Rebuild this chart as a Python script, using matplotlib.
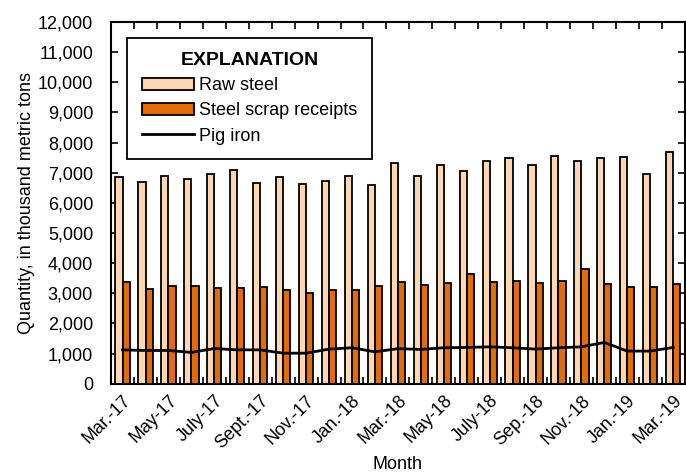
import numpy as np
import matplotlib.pyplot as plt
from matplotlib.patches import Patch
from matplotlib.lines import Line2D
from matplotlib.ticker import FuncFormatter, MultipleLocator

plt.rcParams['font.family'] = ['Liberation Sans', 'DejaVu Sans']

months = ['Mar.-17', 'Apr.-17', 'May-17', 'June-17', 'July-17', 'Aug.-17', 'Sept.-17',
          'Oct.-17', 'Nov.-17', 'Dec.-17', 'Jan.-18', 'Feb.-18', 'Mar.-18', 'Apr.-18',
          'May-18', 'June-18', 'July-18', 'Aug.-18', 'Sep.-18', 'Oct.-18', 'Nov.-18',
          'Dec.-18', 'Jan.-19', 'Feb.-19', 'Mar.-19']

raw_steel = [6870, 6695, 6880, 6785, 6960, 7085, 6650, 6840, 6640, 6715, 6880, 6575, 7325,
             6905, 7270, 7060, 7380, 7470, 7260, 7555, 7400, 7470, 7515, 6960, 7690]
scrap = [3360, 3150, 3250, 3250, 3180, 3160, 3225, 3115, 3015, 3115, 3125, 3250, 3390,
         3280, 3335, 3635, 3370, 3405, 3335, 3405, 3820, 3325, 3225, 3225, 3315]
pig_iron = [1125, 1105, 1105, 1040, 1170, 1125, 1125, 1015, 1015, 1150, 1195, 1060, 1165,
            1140, 1195, 1205, 1225, 1195, 1150, 1195, 1225, 1370, 1085, 1085, 1205]

raw_color = '#FDD7B4'
scrap_color = '#E36C0A'
fs = 13

fig = plt.figure(figsize=(6.86, 4.75), dpi=100)
ax = fig.add_axes([0.162, 0.192, 0.836, 0.762])

x = np.arange(len(months))
w = 0.31
ax.bar(x - w / 2, raw_steel, w, color=raw_color, edgecolor='black', linewidth=1.3, zorder=2)
ax.bar(x + w / 2, scrap, w, color=scrap_color, edgecolor='black', linewidth=1.3, zorder=2)
ax.plot(x, pig_iron, color='black', linewidth=2, zorder=3)

ax.set_xlim(-0.5, len(months) - 0.5)
ax.set_ylim(0, 12000)
ax.yaxis.set_major_locator(MultipleLocator(1000))
ax.yaxis.set_major_formatter(FuncFormatter(lambda v, p: f'{int(v):,}'))

ax.set_xticks(x[::2])
ax.set_xticklabels(months[::2], rotation=45, ha='right', rotation_mode='anchor', fontsize=fs)
ax.set_xticks(np.arange(-0.5, len(months) + 0.5, 1), minor=True)
ax.tick_params(axis='x', which='major', length=0, pad=6)
ax.tick_params(axis='x', which='minor', direction='in', length=5, width=1.2, top=True, bottom=True)
ax.tick_params(axis='y', direction='in', length=5, width=1.2, left=True, right=True,
               labelsize=fs, pad=13)

for s in ax.spines.values():
    s.set_linewidth(1.5)

ax.set_xlabel('Month', fontsize=fs, labelpad=3)
ax.set_ylabel('Quantity, in thousand metric tons', fontsize=fs, labelpad=2)

handles = [Patch(facecolor=raw_color, edgecolor='black', linewidth=1.3),
           Patch(facecolor=scrap_color, edgecolor='black', linewidth=1.3),
           Line2D([0], [0], color='black', linewidth=2)]
leg = ax.legend(handles, ['Raw steel', 'Steel scrap receipts', 'Pig iron'],
                title='EXPLANATION', loc='upper left', bbox_to_anchor=(0.028, 0.956),
                fontsize=fs, title_fontproperties={'weight': 'bold', 'size': 14},
                frameon=True, fancybox=False, edgecolor='black', framealpha=1,
                handlelength=2.9, handleheight=0.65, handletextpad=0.3, labelspacing=0.45,
                borderpad=0.8, borderaxespad=0)
leg.get_frame().set_linewidth(1.3)

fig.savefig('out.png', dpi=100)
